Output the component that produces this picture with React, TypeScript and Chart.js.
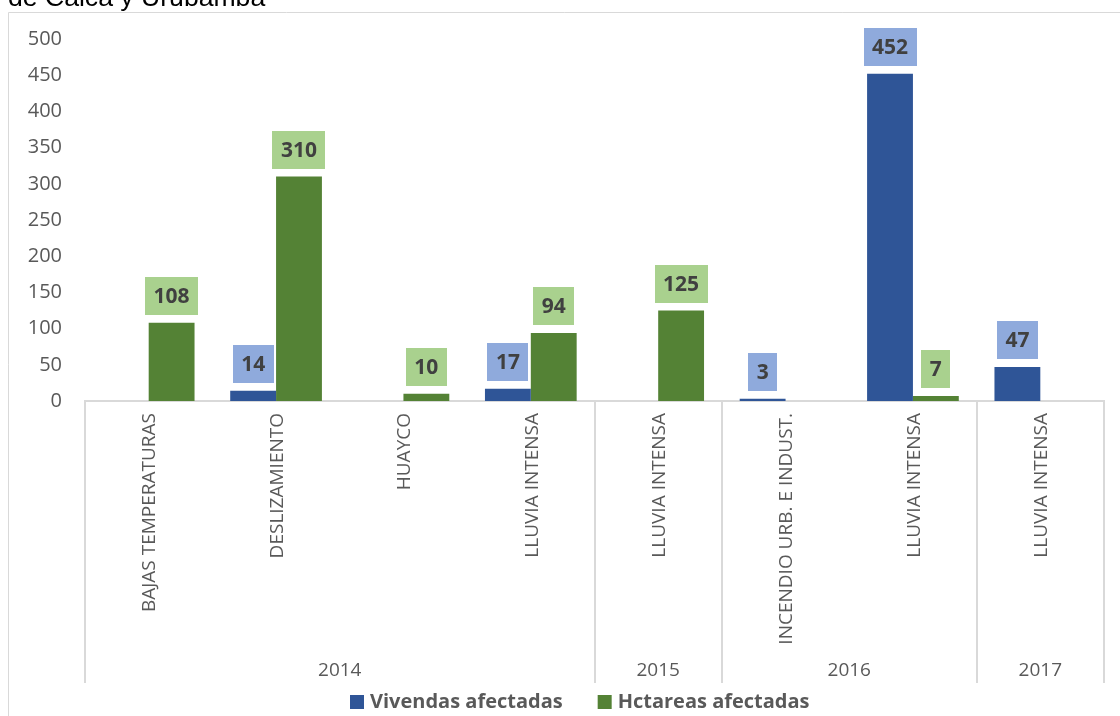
import React, { useEffect, useRef } from 'react';
import { Chart, registerables } from 'chart.js';

Chart.register(...registerables);

const categories = [
  'BAJAS TEMPERATURAS',
  'DESLIZAMIENTO',
  'HUAYCO',
  'LLUVIA INTENSA',
  'LLUVIA INTENSA',
  'INCENDIO URB. E INDUST.',
  'LLUVIA INTENSA',
  'LLUVIA INTENSA',
];
const yearLabels = ['2014', '2015', '2016', '2017'];
const yearSpans = [4, 1, 2, 1];
const viviendas = [null, 14, null, 17, null, 3, 452, 47];
const hectareas = [108, 310, 10, 94, 125, null, 7, null];
const seriesNames = ['Vivendas afectadas', 'Hctareas afectadas'];
const yMin = 0;
const yMax = 500;
const yStep = 50;

const barColors = ['#2F5597', '#548235'];
const labelBoxColors = ['#8FAADC', '#A9D18E'];
const FONT = '"Open Sans", sans-serif';
const GRAY = '#595959';
const DARK = '#404040';
const LINE = '#D9D9D9';

const decorPlugin = {
  id: 'decor',
  beforeDraw(chart: any) {
    const { ctx, width, height } = chart;
    ctx.save();
    ctx.fillStyle = '#ffffff';
    ctx.fillRect(0, 0, width, height);
    ctx.strokeStyle = LINE;
    ctx.lineWidth = 1;
    ctx.beginPath();
    ctx.moveTo(0.5, height);
    ctx.lineTo(0.5, 0.5);
    ctx.lineTo(width, 0.5);
    ctx.stroke();
    ctx.restore();
  },
  afterDatasetsDraw(chart: any) {
    const { ctx } = chart;
    ctx.save();
    ctx.font = `bold 21px ${FONT}`;
    chart.data.datasets.forEach((ds: any, d: number) => {
      const meta = chart.getDatasetMeta(d);
      meta.data.forEach((el: any, i: number) => {
        const v = ds.data[i];
        if (v === null || v === undefined || v === 0) return;
        const text = String(v);
        const tw = ctx.measureText(text).width;
        const bw = Math.round(tw + 17);
        const bh = 38;
        const bx = Math.round(el.x - bw / 2);
        const by = Math.round(el.y - 8 - bh);
        ctx.fillStyle = labelBoxColors[d];
        ctx.fillRect(bx, by, bw, bh);
        ctx.fillStyle = DARK;
        ctx.textAlign = 'center';
        ctx.textBaseline = 'middle';
        ctx.fillText(text, el.x, by + bh / 2 + 1);
      });
    });
    ctx.restore();
  },
  afterDraw(chart: any) {
    const { ctx, chartArea } = chart;
    const xs = chart.scales.x;
    const step = xs.getPixelForValue(1) - xs.getPixelForValue(0);
    const bottom = chartArea.bottom;
    ctx.save();
    // rotated category labels
    ctx.fillStyle = GRAY;
    ctx.font = `19px ${FONT}`;
    const capH = 19 * 0.714;
    (chart.data.labels as string[]).forEach((lab, i) => {
      const cx = xs.getPixelForValue(i);
      ctx.save();
      ctx.translate(cx, bottom + 12);
      ctx.rotate(-Math.PI / 2);
      ctx.textAlign = 'right';
      ctx.textBaseline = 'alphabetic';
      ctx.fillText(lab, 0, capH / 2);
      ctx.restore();
    });
    // group separators and year labels
    ctx.strokeStyle = LINE;
    ctx.lineWidth = 2;
    let idx = 0;
    const bounds: number[] = [xs.getPixelForValue(0) - step / 2];
    yearLabels.forEach((yl, g) => {
      const startX = xs.getPixelForValue(idx) - step / 2;
      idx += yearSpans[g];
      const endX = xs.getPixelForValue(idx - 1) + step / 2;
      bounds.push(endX);
      ctx.textAlign = 'center';
      ctx.textBaseline = 'middle';
      ctx.fillText(yl, (startX + endX) / 2, bottom + 270);
    });
    bounds.forEach((bx) => {
      const x = Math.round(bx);
      ctx.beginPath();
      ctx.moveTo(x, bottom);
      ctx.lineTo(x, bottom + 282);
      ctx.stroke();
    });
    // legend
    ctx.font = `bold 20px ${FONT}`;
    ctx.textBaseline = 'middle';
    ctx.textAlign = 'left';
    let lx = 342;
    const ly = bottom + 300;
    chart.data.datasets.forEach((ds: any, d: number) => {
      ctx.fillStyle = barColors[d];
      ctx.fillRect(lx, ly - 6, 14, 14);
      lx += 20;
      ctx.fillStyle = GRAY;
      ctx.fillText(ds.label, lx, ly + 1);
      lx += ctx.measureText(ds.label).width + 35;
    });
    ctx.restore();
  },
};

export default function App() {
  const ref = useRef<HTMLCanvasElement>(null);
  useEffect(() => {
    if (!ref.current) return;
    const chart = new Chart(ref.current, {
      type: 'bar',
      data: {
        labels: categories,
        datasets: [
          {
            label: seriesNames[0],
            data: viviendas,
            backgroundColor: barColors[0],
            borderWidth: 0,
            categoryPercentage: 0.72,
            barPercentage: 1,
          },
          {
            label: seriesNames[1],
            data: hectareas,
            backgroundColor: barColors[1],
            borderWidth: 0,
            categoryPercentage: 0.72,
            barPercentage: 1,
          },
        ],
      },
      options: {
        responsive: false,
        animation: false,
        layout: { padding: { top: 27, right: 16, bottom: 32, left: 0 } },
        plugins: {
          legend: { display: false },
          tooltip: { enabled: false },
          title: { display: false },
        },
        scales: {
          x: {
            ticks: { display: false },
            grid: { display: false, drawTicks: false },
            border: { display: true, color: LINE, width: 2 },
            afterFit(scale: any) {
              scale.height = 283;
              scale.paddingLeft = 0;
              scale.paddingRight = 0;
            },
          },
          y: {
            min: yMin,
            max: yMax,
            ticks: {
              stepSize: yStep,
              color: GRAY,
              font: { family: FONT, size: 20 },
              padding: 23,
            },
            grid: { display: false, drawTicks: false },
            border: { display: false },
            afterFit(scale: any) {
              scale.width = 77;
              scale.paddingTop = 0;
              scale.paddingBottom = 0;
            },
          },
        },
      },
      plugins: [decorPlugin],
    } as any);
    return () => chart.destroy();
  }, []);

  return (
    <>
      <div
        style={{
          position: 'fixed',
          left: 8,
          top: -16,
          fontFamily: '"Liberation Sans", Arial, sans-serif',
          fontSize: '26.6px',
          lineHeight: '26.6px',
          color: '#000',
          whiteSpace: 'nowrap',
        }}
      >
        de Calca y Urubamba
      </div>
      <div style={{ position: 'fixed', left: 8, top: 12, width: 1112, height: 704 }}>
        <canvas ref={ref} width={1112} height={704} style={{ display: 'block' }} />
      </div>
    </>
  );
}
